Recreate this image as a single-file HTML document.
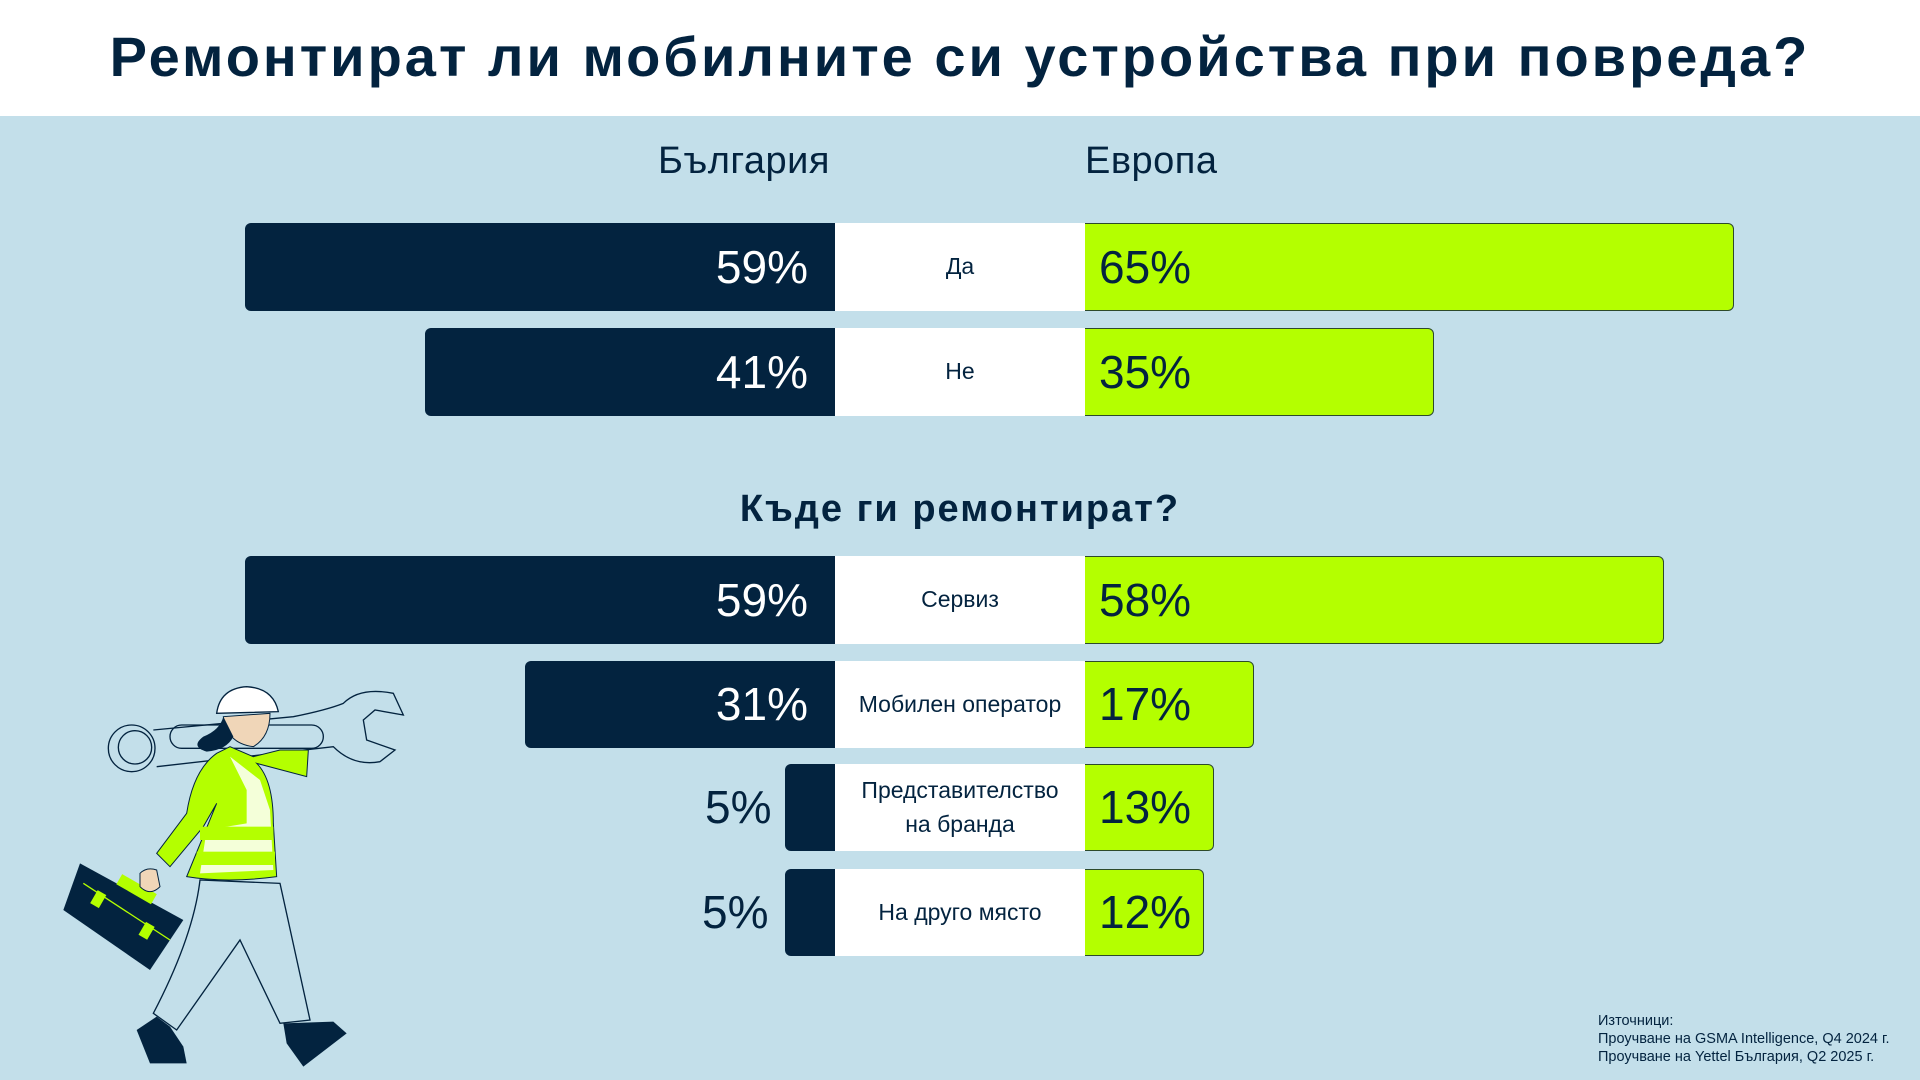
<!DOCTYPE html>
<html><head><meta charset="utf-8"><style>
*{margin:0;padding:0;box-sizing:border-box}
body{width:1920px;height:1080px;background:#c3dfea;position:relative;overflow:hidden;font-family:"Liberation Sans","DejaVu Sans",sans-serif;color:#03233f}
.hdr{position:absolute;left:0;top:0;width:1920px;height:116px;background:#fff}
.title{position:absolute;left:0;top:24px;width:1920px;text-align:center;font-size:56px;font-weight:bold;color:#03233f;letter-spacing:3px}
.col{position:absolute;top:140px;font-size:38px;color:#03233f;letter-spacing:0.5px}
.sub{position:absolute;left:0;top:488px;width:1920px;text-align:center;font-size:38px;font-weight:bold;letter-spacing:2px}
.d{position:absolute;background:#03233f;border-radius:6px 0 0 6px;color:#fff;font-size:46px;text-align:right;padding-right:27px}
.g{position:absolute;left:1085px;background:#b4ff00;border:1.5px solid #2d4a2a;border-left:none;border-radius:0 6px 6px 0;font-size:46px;color:#03233f;padding-left:14px}
.w{position:absolute;left:835px;width:250px;background:#fff;font-size:23px;text-align:center;display:flex;align-items:center;justify-content:center;line-height:1.45}
.o{position:absolute;font-size:46px;color:#03233f}
.src{position:absolute;left:1598px;top:1012px;font-size:14.5px;line-height:18px;color:#03233f}
</style></head><body>
<div class="hdr"></div>
<div class="title">Ремонтират ли мобилните си устройства при повреда?</div>
<div class="col" style="left:658px">България</div>
<div class="col" style="left:1085px">Европа</div>

<div class="d" style="left:245px;top:223px;width:590px;height:88px;line-height:88px">59%</div>
<div class="w" style="top:223px;height:88px">Да</div>
<div class="g" style="top:223px;width:649px;height:88px;line-height:86px">65%</div>

<div class="d" style="left:425px;top:328px;width:410px;height:88px;line-height:88px">41%</div>
<div class="w" style="top:328px;height:88px">Не</div>
<div class="g" style="top:328px;width:349px;height:88px;line-height:86px">35%</div>

<div class="sub">Къде ги ремонтират?</div>

<div class="d" style="left:245px;top:556px;width:590px;height:88px;line-height:88px">59%</div>
<div class="w" style="top:556px;height:88px">Сервиз</div>
<div class="g" style="top:556px;width:579px;height:88px;line-height:86px">58%</div>

<div class="d" style="left:525px;top:661px;width:310px;height:87px;line-height:87px">31%</div>
<div class="w" style="top:661px;height:87px">Мобилен оператор</div>
<div class="g" style="top:661px;width:169px;height:87px;line-height:85px">17%</div>

<div class="d" style="left:785px;top:764px;width:50px;height:87px;padding:0"></div>
<div class="o" style="left:705px;top:764px;line-height:87px">5%</div>
<div class="w" style="top:764px;height:87px">Представителство<br>на бранда</div>
<div class="g" style="top:764px;width:129px;height:87px;line-height:85px">13%</div>

<div class="d" style="left:785px;top:869px;width:50px;height:87px;padding:0"></div>
<div class="o" style="left:702px;top:869px;line-height:87px">5%</div>
<div class="w" style="top:869px;height:87px">На друго място</div>
<div class="g" style="top:869px;width:119px;height:87px;line-height:85px">12%</div>

<svg style="position:absolute;left:60px;top:670px" width="360" height="400" viewBox="0 0 1080 1200">
<g stroke="#03233f" stroke-width="4" fill="none">
<circle cx="215" cy="235" r="70"/><circle cx="225" cy="232" r="50"/>
<path d="M280 180 L700 140 Q800 120 850 100 Q900 50 1000 70 L1030 135 L945 120 L910 150 L920 210 L1005 240 L960 275 Q880 290 820 230 L290 290"/>
<rect x="330" y="165" width="460" height="70" rx="35"/>
</g>
<path d="M470 130 Q480 55 560 50 Q640 55 655 125 Z" fill="#fff" stroke="#03233f" stroke-width="4"/>
<path d="M490 140 Q500 220 580 230 Q630 200 630 130 Z" fill="#f0d6b8" stroke="#03233f" stroke-width="3"/>
<path d="M490 140 Q480 180 430 200 Q390 230 440 245 Q500 240 520 200 Z" fill="#03233f"/>
<path d="M470 250 Q400 300 380 430 L290 550 L330 590 L430 470 L470 400 L380 620 Q500 640 650 620 L640 460 Q640 330 590 280 L740 320 L745 240 L660 240 L580 260 L510 230 Z" fill="#b4ff00" stroke="#03233f" stroke-width="3"/>
<path d="M510 260 L600 330 L630 420 L640 600 L420 610 L440 480 L560 460 L560 360 Z" fill="#fff" opacity="0.85"/>
<rect x="420" y="470" width="220" height="40" fill="#b4ff00"/><rect x="410" y="545" width="235" height="40" fill="#b4ff00"/>
<path d="M420 630 Q400 800 280 1030 L350 1080 L540 810 L660 1060 L750 1050 L660 640 Z" fill="#c3dfea" stroke="#03233f" stroke-width="4"/>
<path d="M290 1040 L230 1080 L270 1180 L380 1180 L370 1130 L330 1070 Z" fill="#03233f"/>
<path d="M670 1060 L680 1120 L730 1190 L860 1090 L820 1055 Z" fill="#03233f"/>
<path d="M60 580 L370 750 L270 900 L10 720 Z" fill="#03233f"/>
<path d="M70 640 L330 810" stroke="#b4ff00" stroke-width="4"/>
<rect x="170" y="640" width="120" height="35" fill="#b4ff00" transform="rotate(30 230 657)"/>
<rect x="100" y="665" width="30" height="45" fill="#b4ff00" transform="rotate(30 115 687)"/>
<rect x="245" y="760" width="30" height="45" fill="#b4ff00" transform="rotate(30 260 782)"/>
<path d="M240 610 Q260 590 290 600 L300 650 Q270 680 240 650 Z" fill="#f0d6b8" stroke="#03233f" stroke-width="3"/>
</svg>

<div class="src">Източници:<br>Проучване на GSMA Intelligence, Q4 2024 г.<br>Проучване на Yettel България, Q2 2025 г.</div>
</body></html>
